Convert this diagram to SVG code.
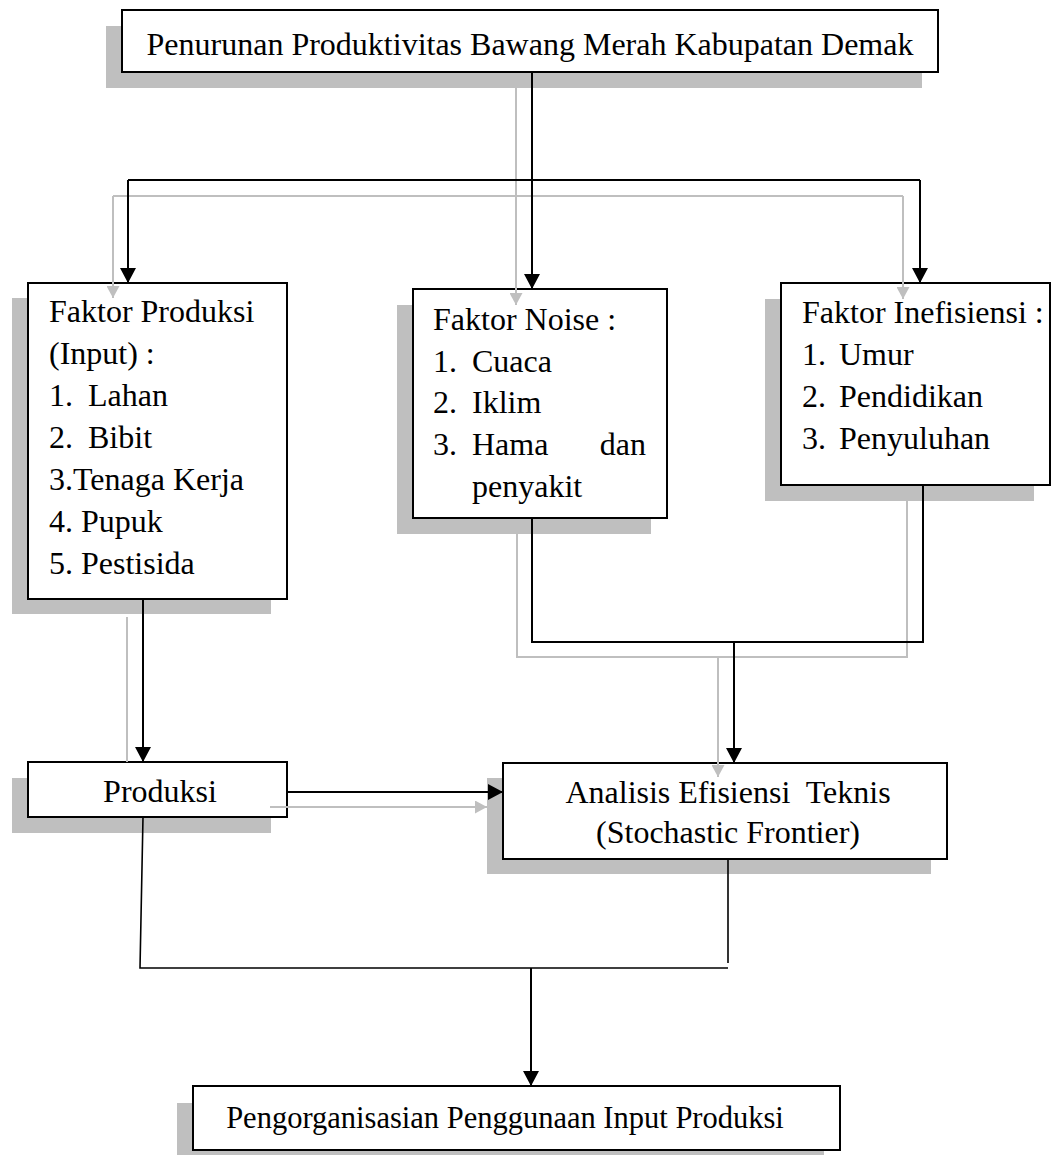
<svg xmlns="http://www.w3.org/2000/svg" width="1054" height="1155" viewBox="0 0 1054 1155">
<style>
.sh{fill:#bfbfbf}
.bx{fill:#fff;stroke:#000;stroke-width:2}
text{font-family:"Liberation Serif","Times New Roman",serif;font-size:32px;fill:#000}
.k{fill:none;stroke:#000;stroke-width:2}
.kt{fill:none;stroke:#000;stroke-width:1.6}
.g{fill:none;stroke:#bfbfbf;stroke-width:2}
</style>
<defs>
<marker id="ab" markerUnits="userSpaceOnUse" markerWidth="16" markerHeight="16" refX="15" refY="8" orient="auto">
<path d="M0,0 L15,8 L0,16 z" fill="#000"/>
</marker>
<marker id="ag" markerUnits="userSpaceOnUse" markerWidth="13" markerHeight="13" refX="12" refY="6.5" orient="auto">
<path d="M0,0 L12,6.5 L0,13 z" fill="#bfbfbf"/>
</marker>
</defs>
<rect width="1054" height="1155" fill="#fff"/>

<g id="node-top">
<rect class="sh" x="106" y="26" width="816" height="62"/>
<rect class="bx" x="122" y="10" width="816" height="62"/>
<text x="530" y="55" text-anchor="middle">Penurunan Produktivitas Bawang Merah Kabupatan Demak</text>
</g>

<g id="node-produksi-input">
<rect class="sh" x="12" y="298" width="259" height="316"/>
<rect class="bx" x="28" y="283" width="259" height="316"/>
<text x="49" y="322">Faktor Produksi</text>
<text x="49" y="364">(Input) :</text>
<text y="406"><tspan x="49">1.</tspan><tspan x="88">Lahan</tspan></text>
<text y="448"><tspan x="49">2.</tspan><tspan x="88">Bibit</tspan></text>
<text x="49" y="490">3.Tenaga Kerja</text>
<text x="49" y="532">4. Pupuk</text>
<text x="49" y="574">5. Pestisida</text>
</g>

<g id="node-noise">
<rect class="sh" x="397" y="305" width="254" height="229"/>
<rect class="bx" x="413" y="289" width="254" height="229"/>
<text x="433" y="330">Faktor Noise :</text>
<text y="372"><tspan x="433">1.</tspan><tspan x="472">Cuaca</tspan></text>
<text y="413"><tspan x="433">2.</tspan><tspan x="472">Iklim</tspan></text>
<text y="455"><tspan x="433">3.</tspan><tspan x="472">Hama</tspan><tspan x="646" text-anchor="end">dan</tspan></text>
<text x="472" y="497">penyakit</text>
</g>

<g id="node-inefisiensi">
<rect class="sh" x="765" y="299" width="269" height="202"/>
<rect class="bx" x="781" y="283" width="269" height="202"/>
<text x="802" y="323">Faktor Inefisiensi :</text>
<text y="365"><tspan x="802">1.</tspan><tspan x="839">Umur</tspan></text>
<text y="407"><tspan x="802">2.</tspan><tspan x="839">Pendidikan</tspan></text>
<text y="449"><tspan x="802">3.</tspan><tspan x="839">Penyuluhan</tspan></text>
</g>

<g id="node-produksi">
<rect class="sh" x="12" y="778" width="259" height="55"/>
<rect class="bx" x="28" y="762" width="259" height="55"/>
<text x="160" y="802" text-anchor="middle">Produksi</text>
</g>

<g id="node-analisis">
<rect class="sh" x="487" y="778" width="444" height="96"/>
<rect class="bx" x="503" y="763" width="444" height="96"/>
<text x="728" y="803" text-anchor="middle" xml:space="preserve">Analisis Efisiensi  Teknis</text>
<text x="728" y="843" text-anchor="middle">(Stochastic Frontier)</text>
</g>

<g id="node-bottom">
<rect class="sh" x="177" y="1103" width="647" height="64"/>
<rect class="bx" x="193" y="1086" width="647" height="64"/>
<text x="505" y="1128" text-anchor="middle" style="font-size:30.5px">Pengorganisasian Penggunaan Input Produksi</text>
</g>

<g id="connectors">
<path class="g" d="M516,88 V305" marker-end="url(#ag)"/>
<path class="g" d="M113,196 H903"/>
<path class="g" d="M113,196 V298" marker-end="url(#ag)"/>
<path class="g" d="M903,196 V299" marker-end="url(#ag)"/>
<path class="g" d="M127,617 V762"/>
<path class="g" d="M270,807 H487" marker-end="url(#ag)"/>
<path class="g" d="M517,534 V657 H907 V501"/>
<path class="g" d="M718,657 V777" marker-end="url(#ag)"/>

<path class="k" d="M532,72 V180"/>
<path class="k" d="M128,180 H920"/>
<path class="k" d="M128,180 V283" marker-end="url(#ab)"/>
<path class="k" d="M532,180 V289" marker-end="url(#ab)"/>
<path class="k" d="M920,180 V283" marker-end="url(#ab)"/>
<path class="k" d="M143,599 V762" marker-end="url(#ab)"/>
<path class="k" d="M287,792 H503" marker-end="url(#ab)"/>
<path class="k" d="M532,518 V642 H923 V485"/>
<path class="k" d="M734,642 V763" marker-end="url(#ab)"/>
<path class="kt" d="M143,817 L140,968 H728"/>
<path class="kt" d="M728,859 V963"/>
<path class="k" d="M531,968 V1086" marker-end="url(#ab)"/>
</g>
</svg>
